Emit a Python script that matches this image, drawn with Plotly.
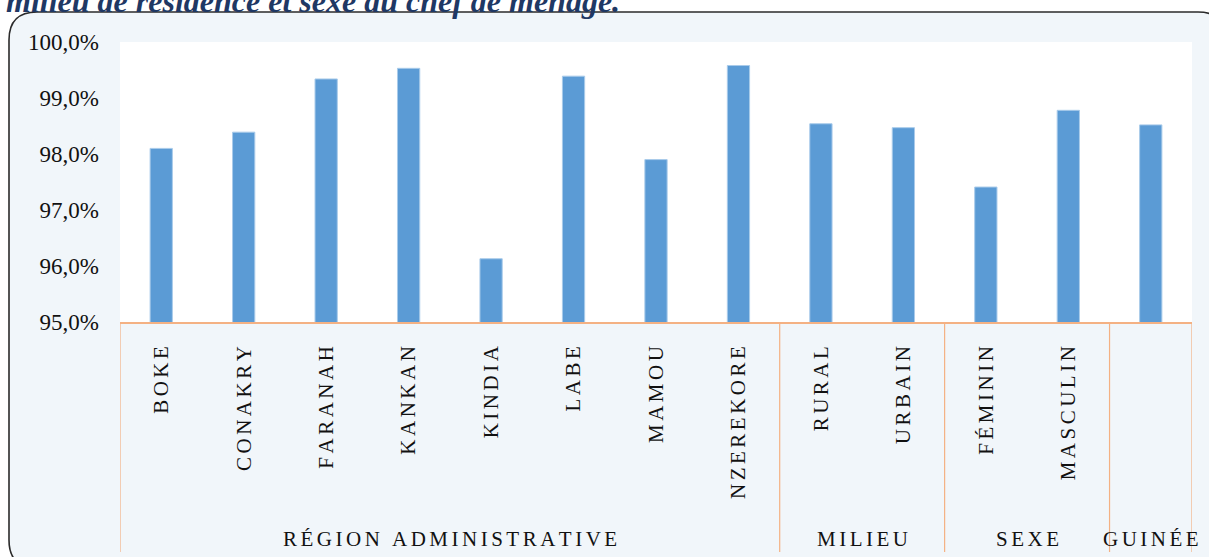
import plotly.graph_objects as go

categories = ["BOKE", "CONAKRY", "FARANAH", "KANKAN", "KINDIA", "LABE", "MAMOU",
              "NZEREKORE", "RURAL", "URBAIN", "FÉMININ", "MASCULIN", "GUINÉE"]
tick_labels = ["BOKE", "CONAKRY", "FARANAH", "KANKAN", "KINDIA", "LABE", "MAMOU",
               "NZEREKORE", "RURAL", "URBAIN", "FÉMININ", "MASCULIN", ""]
values = [98.10, 98.39, 99.34, 99.53, 96.13, 99.39, 97.90, 99.58,
          98.54, 98.47, 97.41, 98.78, 98.52]
groups = ["RÉGION ADMINISTRATIVE", "MILIEU", "SEXE", "GUINÉE"]
group_sizes = [8, 2, 2, 1]
y_ticks = [95, 96, 97, 98, 99, 100]
y_tick_labels = ["95,0%", "96,0%", "97,0%", "98,0%", "99,0%", "100,0%"]
title_text = "milieu de résidence et sexe du chef de ménage."

W, H = 1209, 557
L, R, T, B = 120, 17, 42, 235
pw, ph = W - L - R, H - T - B


def px(x):
    return (x - L) / pw


def py(y):
    return (H - B - y) / ph


def spaced(s, sep="\u2006"):
    return sep.join(list(s))


SERIF = "Liberation Serif, Times New Roman, serif"
ORANGE = "#F4B183"
BOX_BG = "#F1F6FA"

fig = go.Figure()
fig.add_trace(go.Bar(
    x=categories, y=values, width=0.27,
    marker=dict(color="#5B9BD5", line=dict(color="#A9CBEA", width=1)),
    hoverinfo="x+y",
))

# rounded outer box
bl, bt, br, bb, r = 9, 12, 1226, 568, 28
path = (f"M {px(bl)},{py(bt + r)} "
        f"Q {px(bl)},{py(bt)} {px(bl + r)},{py(bt)} "
        f"L {px(br - r)},{py(bt)} "
        f"Q {px(br)},{py(bt)} {px(br)},{py(bt + r)} "
        f"L {px(br)},{py(bb - r)} "
        f"Q {px(br)},{py(bb)} {px(br - r)},{py(bb)} "
        f"L {px(bl + r)},{py(bb)} "
        f"Q {px(bl)},{py(bb)} {px(bl)},{py(bb - r)} Z")
shapes = [
    dict(type="path", xref="paper", yref="paper", path=path,
         fillcolor=BOX_BG, line=dict(color="#2b2b2b", width=1.6), layer="below"),
    dict(type="rect", xref="paper", yref="paper", x0=0, x1=1, y0=0, y1=1,
         fillcolor="white", line=dict(width=0), layer="below"),
]

# group separators
bottom = py(552)
pos = -0.5
bounds = [pos]
for n in group_sizes:
    pos += n
    bounds.append(pos)
for b in bounds:
    shapes.append(dict(type="line", xref="x", yref="paper", x0=b, x1=b,
                       y0=0, y1=bottom, line=dict(color=ORANGE, width=1.2)))

annotations = []
start = -0.5
for g, n in zip(groups, group_sizes):
    center = start + n / 2
    annotations.append(dict(
        x=center, y=py(539), xref="x", yref="paper", text=spaced(g, "\u2006"),
        showarrow=False, xanchor="center", yanchor="middle",
        font=dict(family=SERIF, size=21, color="#111111")))
    start += n

annotations.append(dict(
    x=px(4), y=py(21), xref="paper", yref="paper", text=title_text,
    showarrow=False, xanchor="left", yanchor="bottom",
    font=dict(family=SERIF, size=32, color="#1F3864", weight="bold", style="italic")))

fig.update_layout(
    width=W, height=H,
    margin=dict(l=L, r=R, t=T, b=B),
    paper_bgcolor="white",
    plot_bgcolor="white",
    showlegend=False,
    bargap=0.73,
    shapes=shapes,
    annotations=annotations,
    xaxis=dict(
        type="category", categoryorder="array", categoryarray=categories,
        tickmode="array", tickvals=categories,
        ticktext=[spaced(t) for t in tick_labels],
        tickangle=-90, ticks="", showline=True, linecolor=ORANGE, linewidth=1.5,
        showgrid=False, zeroline=False, ticklabelstandoff=14,
        tickfont=dict(family=SERIF, size=21, color="#111111"),
        range=[-0.5, 12.5],
    ),
    yaxis=dict(
        range=[95, 100], tickmode="array", tickvals=y_ticks, ticktext=y_tick_labels,
        showgrid=False, zeroline=False, showline=False, ticks="",
        ticklabelstandoff=20,
        tickfont=dict(family=SERIF, size=23, color="#111111"),
    ),
)

fig.write_html("out.html", config={"displayModeBar": False},
               post_script="document.body.style.margin='0px';document.body.style.overflow='hidden';")
